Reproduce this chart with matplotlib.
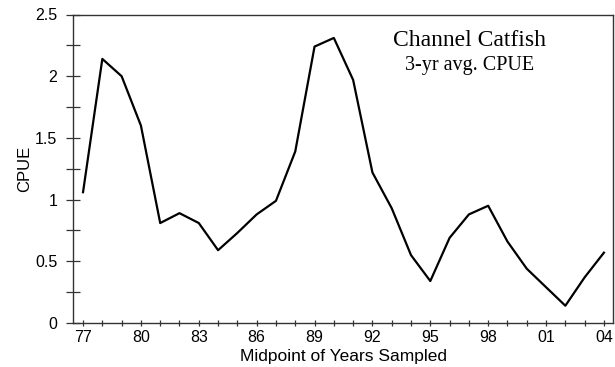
import numpy as np
import matplotlib
matplotlib.use("Agg")
import matplotlib.pyplot as plt
from matplotlib.ticker import MultipleLocator, FixedLocator, FuncFormatter

# midpoint year of each 3-yr window (1977-2004) and its averaged CPUE
years = list(range(1977, 2005))
cpue = [1.06, 2.14, 2.00, 1.60, 0.81, 0.89, 0.81, 0.59, 0.73, 0.88,
        0.99, 1.39, 2.24, 2.31, 1.97, 1.22, 0.93, 0.55, 0.34, 0.69,
        0.88, 0.95, 0.66, 0.44, 0.29, 0.14, 0.37, 0.57]
label_years = list(range(1977, 2005, 3))
tick_labels = [str(y)[2:] for y in label_years]

plt.rcParams['font.family'] = ['Liberation Sans', 'DejaVu Sans']

fig = plt.figure(figsize=(6.15, 3.67), dpi=100)
ax = fig.add_axes([73 / 615, 1 - 323 / 367, 540 / 615, (323 - 14.5) / 367])

ax.plot(years, cpue, color='black', lw=1.6)

ax.set_xlim(1976.48, 2004.47)
ax.set_ylim(0, 2.5)

ax.xaxis.set_major_locator(FixedLocator(label_years))
ax.set_xticklabels(tick_labels)
ax.xaxis.set_minor_locator(MultipleLocator(1))
ax.yaxis.set_major_locator(MultipleLocator(0.5))
ax.yaxis.set_minor_locator(MultipleLocator(0.25))
ax.yaxis.set_major_formatter(FuncFormatter(lambda v, p: f'{v:g}'))

spine_col = '#333333'
for s in ax.spines.values():
    s.set_color(spine_col)
    s.set_linewidth(1.0)

ax.tick_params(axis='x', which='both', direction='inout', length=5,
               width=0.9, color=spine_col, labelsize=11.5, pad=2.5)
ax.tick_params(axis='y', which='both', direction='inout', length=10.5,
               width=0.9, color=spine_col, labelsize=11.5, pad=6)

ax.set_xlabel('Midpoint of Years Sampled', fontsize=12.5, labelpad=3)
ax.set_ylabel('CPUE', fontsize=12, labelpad=2.5)

ax.text(0.735, 0.917, 'Channel Catfish', transform=ax.transAxes,
        ha='center', va='center', fontsize=17, family='Liberation Serif')
ax.text(0.735, 0.836, '3-yr avg. CPUE', transform=ax.transAxes,
        ha='center', va='center', fontsize=14.5, family='Liberation Serif')

fig.savefig('out.png', dpi=100)
